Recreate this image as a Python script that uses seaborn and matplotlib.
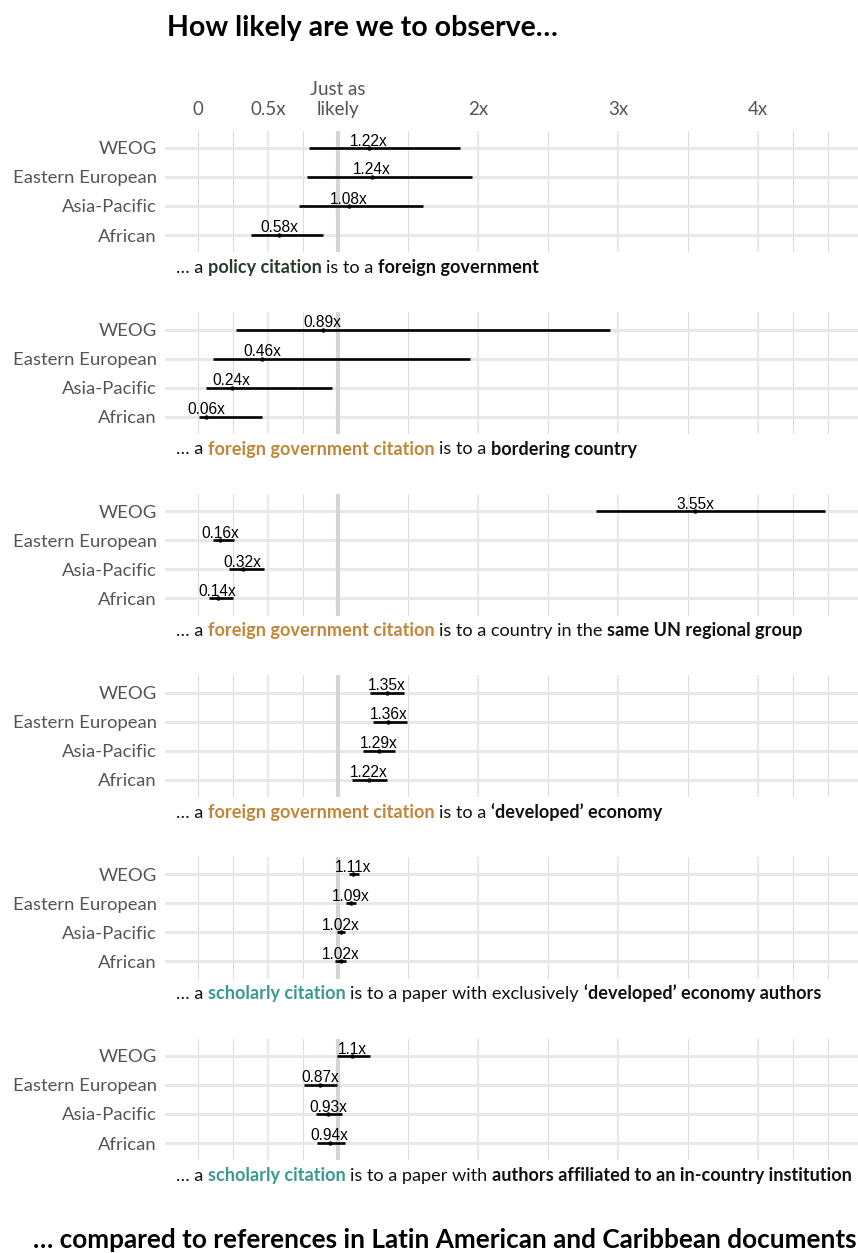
import matplotlib
matplotlib.use("Agg")
import matplotlib.pyplot as plt
import numpy as np
import pandas as pd
import seaborn as sns

# ---- data -------------------------------------------------------------
groups = ["WEOG", "Eastern European", "Asia-Pacific", "African"]

policy_foreign_est = [1.22, 1.24, 1.08, 0.58]
policy_foreign_lo = [0.79, 0.78, 0.72, 0.38]
policy_foreign_hi = [1.87, 1.96, 1.61, 0.89]

foreign_border_est = [0.89, 0.46, 0.24, 0.06]
foreign_border_lo = [0.27, 0.11, 0.06, 0.01]
foreign_border_hi = [2.94, 1.94, 0.96, 0.46]

foreign_region_est = [3.55, 0.16, 0.32, 0.14]
foreign_region_lo = [2.84, 0.11, 0.22, 0.08]
foreign_region_hi = [4.48, 0.26, 0.47, 0.25]

foreign_developed_est = [1.35, 1.36, 1.29, 1.22]
foreign_developed_lo = [1.23, 1.25, 1.18, 1.10]
foreign_developed_hi = [1.47, 1.49, 1.41, 1.35]

scholarly_developed_est = [1.11, 1.09, 1.02, 1.02]
scholarly_developed_lo = [1.08, 1.06, 0.99, 0.98]
scholarly_developed_hi = [1.15, 1.13, 1.05, 1.06]

scholarly_domestic_est = [1.10, 0.87, 0.93, 0.94]
scholarly_domestic_lo = [0.99, 0.76, 0.84, 0.85]
scholarly_domestic_hi = [1.23, 0.99, 1.03, 1.05]

tick_values = [0, 0.5, 1, 2, 3, 4]
tick_labels = ["0", "0.5x", "Just as\nlikely", "2x", "3x", "4x"]

POLICY = "#2c3a2c"
FOREIGN = "#c0873a"
SCHOLAR = "#3a9a8f"
INK = "#111111"

captions = [
    [("\u2026 a", "normal", INK), ("policy citation", "bold", POLICY),
     ("is to a", "normal", INK), ("foreign government", "bold", INK)],
    [("\u2026 a", "normal", INK), ("foreign government citation", "bold", FOREIGN),
     ("is to a", "normal", INK), ("bordering country", "bold", INK)],
    [("\u2026 a", "normal", INK), ("foreign government citation", "bold", FOREIGN),
     ("is to a country in the", "normal", INK), ("same UN regional group", "bold", INK)],
    [("\u2026 a", "normal", INK), ("foreign government citation", "bold", FOREIGN),
     ("is to a", "normal", INK), ("\u2018developed\u2019 economy", "bold", INK)],
    [("\u2026 a", "normal", INK), ("scholarly citation", "bold", SCHOLAR),
     ("is to a paper with exclusively", "normal", INK),
     ("\u2018developed\u2019 economy authors", "bold", INK)],
    [("\u2026 a", "normal", INK), ("scholarly citation", "bold", SCHOLAR),
     ("is to a paper with", "normal", INK),
     ("authors affiliated to an in-country institution", "bold", INK)],
]

panels = [
    (policy_foreign_est, policy_foreign_lo, policy_foreign_hi),
    (foreign_border_est, foreign_border_lo, foreign_border_hi),
    (foreign_region_est, foreign_region_lo, foreign_region_hi),
    (foreign_developed_est, foreign_developed_lo, foreign_developed_hi),
    (scholarly_developed_est, scholarly_developed_lo, scholarly_developed_hi),
    (scholarly_domestic_est, scholarly_domestic_lo, scholarly_domestic_hi),
]

# ---- style ------------------------------------------------------------
sns.set_style("white")
plt.rcParams["font.family"] = ["Lato", "DejaVu Sans"]

W, H = 858, 1253
fig = plt.figure(figsize=(W / 100, H / 100), dpi=100)
renderer = fig.canvas.get_renderer()


def px_box(left, top, width, height):
    return [left / W, 1 - (top + height) / H, width / W, height / H]


def text_width(s, **kw):
    t = fig.text(0, 0, s, **kw)
    w = t.get_window_extent(renderer).width
    t.remove()
    return w


def draw_pieces(x_px, y_px, pieces, size):
    gap = text_width("a a", fontsize=size) - text_width("aa", fontsize=size)
    x = x_px
    for s, weight, color in pieces:
        t = fig.text(x / W, 1 - y_px / H, s, fontsize=size, fontweight=weight,
                     color=color, ha="left", va="baseline")
        x = t.get_window_extent(renderer).x1 + gap


major_grid = [0.5, 2, 3, 4]
minor_grid = [0, 0.25, 0.75, 1.5, 2.5, 3.5, 4.25, 4.5]

PANEL_LEFT, PANEL_W, PANEL_H = 165, 693, 121.8
X_MIN, X_MAX = -33 / 140, 660 / 140

for k, ((est, lo, hi), pieces) in enumerate(zip(panels, captions)):
    top = 130.6 + 181.6 * k
    ax = fig.add_axes(px_box(PANEL_LEFT, top, PANEL_W, PANEL_H))
    df = pd.DataFrame({"group": groups, "pos": np.arange(len(groups)),
                       "est": est, "lo": lo, "hi": hi})

    for v in major_grid:
        ax.axvline(v, color="#ececec", lw=1.7, zorder=0)
    for v in minor_grid:
        ax.axvline(v, color="#dcdcdc", lw=0.8, zorder=0)
    for p in df["pos"]:
        ax.axhline(p, color="#e8e8e8", lw=2.2, zorder=0)
    ax.axvline(1, color="#d5d5d5", lw=3.0, zorder=1)

    ax.hlines(df["pos"], df["lo"], df["hi"], color="black", lw=1.9, zorder=2)
    sns.scatterplot(data=df, x="est", y="pos", color="black", s=10,
                    linewidth=0, ax=ax, zorder=3, legend=False)
    for _, row in df.iterrows():
        ax.annotate(f"{row['est']:g}x", xy=(row["est"], row["pos"]),
                    xytext=(0, 2.5), textcoords="offset pixels",
                    ha="center", va="baseline", fontsize=11.2,
                    family=["Liberation Sans", "DejaVu Sans"], color="black",
                    zorder=4)

    ax.set_xlim(X_MIN, X_MAX)
    ax.set_ylim(len(groups) - 0.4, -0.6)
    ax.set_yticks(df["pos"])
    ax.set_yticklabels(groups)
    ax.set_xlabel("")
    ax.set_ylabel("")
    ax.tick_params(axis="y", length=0, pad=6, labelsize=13.3,
                   labelcolor="#555555")
    for sp in ax.spines.values():
        sp.set_visible(False)

    if k == 0:
        ax.xaxis.tick_top()
        ax.set_xticks(tick_values)
        ax.set_xticklabels(tick_labels)
        ax.tick_params(axis="x", length=0, pad=9, labelsize=13.5,
                       labelcolor="#555555")
    else:
        ax.set_xticks([])

    draw_pieces(176, top + PANEL_H + 20.5, pieces, 13.1)

fig.text(167 / W, 1 - 36 / H, "How likely are we to observe\u2026",
         fontsize=20.5, fontweight="bold", color="black", ha="left",
         va="baseline")
fig.text(857 / W, 1 - 1248 / H,
         "\u2026 compared to references in Latin American and Caribbean documents",
         fontsize=18.8, fontweight="bold", color="black", ha="right",
         va="baseline")

fig.savefig("out.png", dpi=100)
